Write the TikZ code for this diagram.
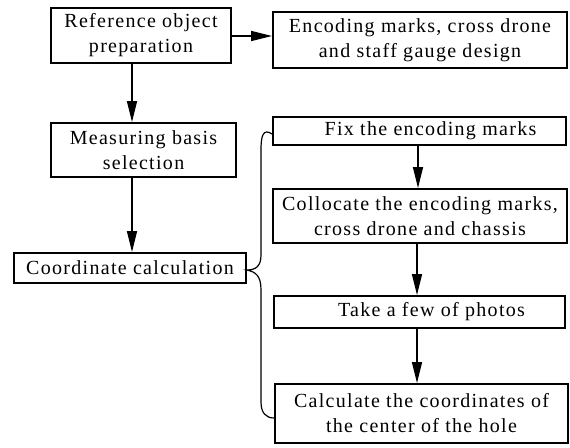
\documentclass[tikz,border=0pt]{standalone}
\usepackage{fontspec}
\setmainfont{Liberation Serif}[LetterSpace=6.5]
\usetikzlibrary{arrows.meta}
\begin{document}
\begin{tikzpicture}[x=1pt,y=-1pt,
  box/.style={draw,line width=1.8pt,rectangle,inner sep=0pt,align=center,
    font=\fontsize{20}{25}\selectfont},
  arr/.style={line width=1.3pt,-{Triangle[length=21pt,width=10pt]}},
  brace/.style={line width=1.2pt}]
\useasboundingbox (0,0) rectangle (570,447);
\node[box,minimum width=180pt,minimum height=55pt] (ref) at (141,35.5) {Reference object\\preparation};
\node[box,minimum width=294pt,minimum height=56pt] (enc) at (420,40) {Encoding marks, cross drone\\and staff gauge design};
\node[box,minimum width=185pt,minimum height=54pt] (meas) at (143.5,150) {Measuring basis\\selection};
\node[box,minimum width=232pt,minimum height=30pt] (coord) at (130,268) {Coordinate calculation};
\node[box,minimum width=293pt,minimum height=28pt] (fix) at (419.5,131) {\hspace*{22pt}Fix the encoding marks};
\node[box,minimum width=294pt,minimum height=54pt] (coll) at (420,216) {Collocate the encoding marks,\\cross drone and chassis};
\node[box,minimum width=291pt,minimum height=32pt] (take) at (419.5,312) {\hspace*{24pt}Take a few of photos};
\node[box,minimum width=293pt,minimum height=59pt] (calc) at (421.5,413.5) {Calculate the coordinates of\\the center of the hole};
\coordinate (a1) at (132,63);
\coordinate (a2) at (132,177);
\draw[arr] (ref.east |- 0,36) -- (enc.west |- 0,36);
\draw[arr] (a1) -- (a1 |- meas.north);
\draw[arr] (a2) -- (a2 |- coord.north);
\draw[arr] (418,0 |- fix.south) -- (418,0 |- coll.north);
\draw[arr] (417,0 |- coll.south) -- (417,0 |- take.north);
\draw[arr] (417,0 |- take.south) -- (417,0 |- calc.north);
\coordinate (bt) at ([yshift=-3pt]fix.west);
\coordinate (bb) at ([yshift=-4.5pt]calc.west);
\coordinate (tip) at ([yshift=-2pt]coord.east);
\draw[brace] (bt) .. controls (263,128) and (261,136) .. (261,150) -- (261,255)
  .. controls (261,266) and (256,270) .. (tip)
  .. controls (256,272) and (261,276) .. (261,290) -- (261,402)
  .. controls (261,413) and (266,418) .. (bb);
\end{tikzpicture}
\end{document}
